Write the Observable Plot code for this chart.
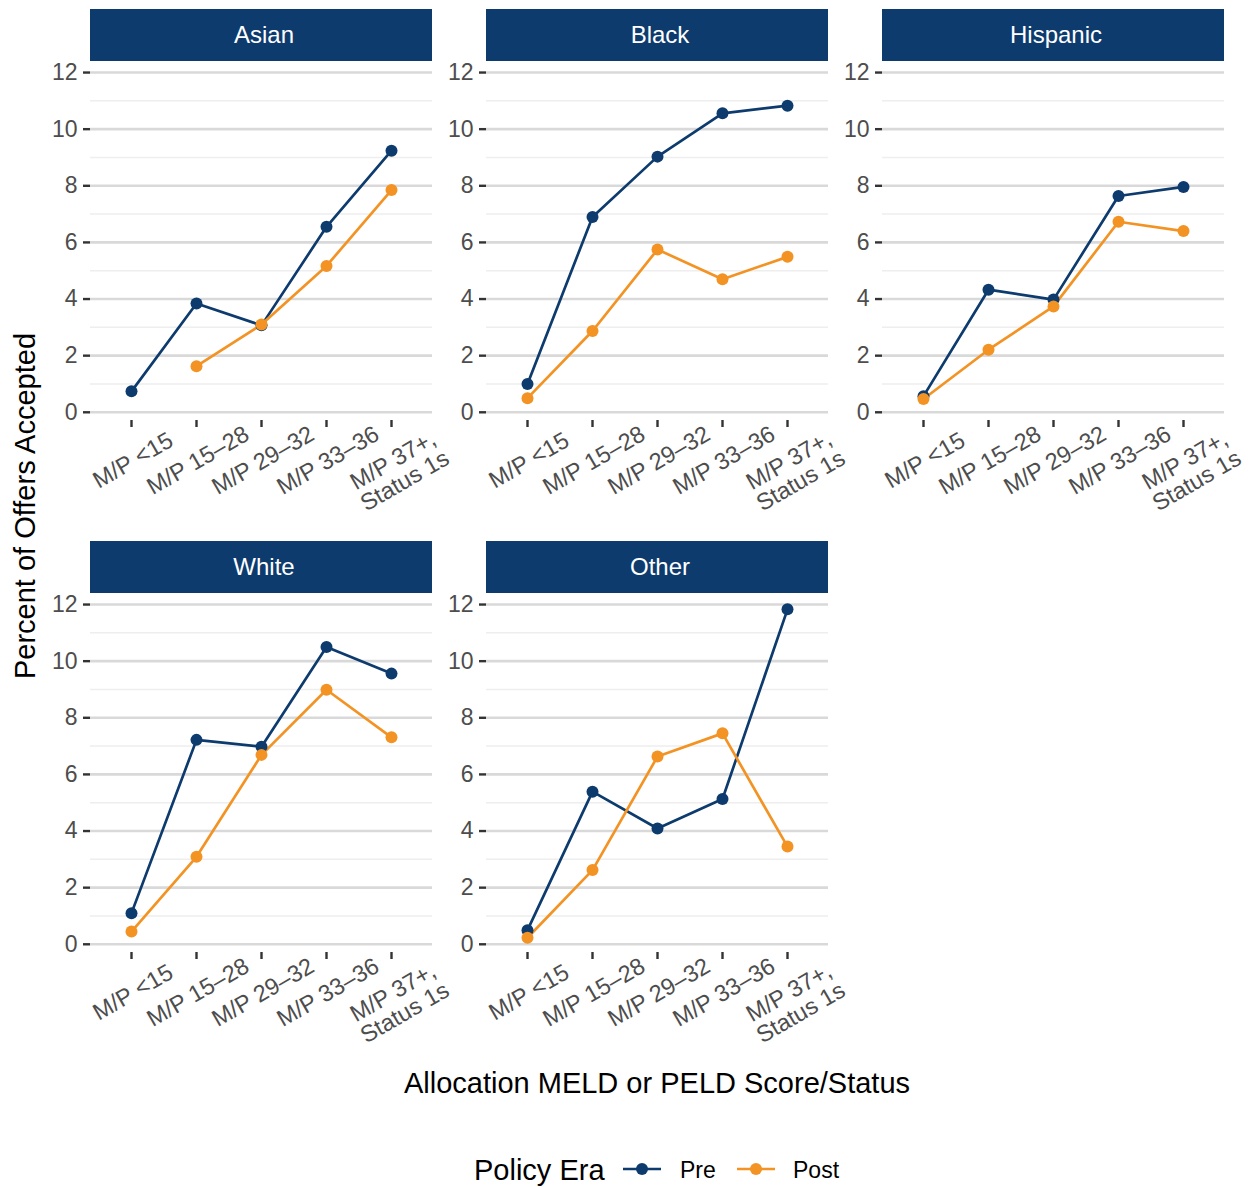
<!DOCTYPE html>
<html>
<head>
<meta charset="utf-8">
<script src="https://cdn.jsdelivr.net/npm/d3@7"></script>
<script src="https://cdn.jsdelivr.net/npm/@observablehq/plot@0.6"></script>
<style>
  body { margin: 0; background: #ffffff; }
  #fig { position: relative; width: 1250px; height: 1187px; overflow: hidden; background: #ffffff;
         font-family: "Liberation Sans", Arial, Helvetica, sans-serif; }
  .strip { position: absolute; width: 336px; padding-left: 6px; height: 52px; background: #0d3b6e; color: #ffffff;
           font-size: 24px; display: flex; align-items: center; justify-content: center; }
  .facet { position: absolute; }
  .ttl { position: absolute; color: #000000; font-size: 29px; line-height: 29px; white-space: nowrap; }
  .leg { position: absolute; color: #000000; font-size: 23px; line-height: 23px; white-space: nowrap; }
</style>
</head>
<body>
<div id="fig"></div>
<script>
// ---------- data ----------
const categories = ["M/P <15", "M/P 15–28", "M/P 29–32", "M/P 33–36", "M/P 37+,\nStatus 1s"];
const facets = ["Asian", "Black", "Hispanic", "White", "Other"];
const eras = ["Pre", "Post"];
const eraColors = ["#0d3b6e", "#f39324"];

const asianPre     = [0.74, 3.84, 3.07, 6.55, 9.24];
const asianPost    = [null, 1.63, 3.10, 5.17, 7.85];
const blackPre     = [1.00, 6.90, 9.03, 10.56, 10.83];
const blackPost    = [0.50, 2.87, 5.75, 4.70, 5.49];
const hispanicPre  = [0.57, 4.33, 3.98, 7.64, 7.96];
const hispanicPost = [0.47, 2.21, 3.74, 6.73, 6.40];
const whitePre     = [1.10, 7.22, 6.98, 10.50, 9.56];
const whitePost    = [0.45, 3.09, 6.69, 8.99, 7.31];
const otherPre     = [0.50, 5.39, 4.09, 5.13, 11.83];
const otherPost    = [0.23, 2.62, 6.63, 7.45, 3.45];

const yMajor = [0, 2, 4, 6, 8, 10, 12];
const yMinor = [1, 3, 5, 7, 9, 11];

const seriesByFacet = {
  Asian: [asianPre, asianPost],
  Black: [blackPre, blackPost],
  Hispanic: [hispanicPre, hispanicPost],
  White: [whitePre, whitePost],
  Other: [otherPre, otherPost]
};

// ---------- layout ----------
const fig = document.getElementById("fig");
const colX = [90, 486, 882];
const rowY = [61, 593];
const panelW = 342, panelH = 359;
const mL = 90, mR = 40, mB = 110;

facets.forEach((name, k) => {
  const px = colX[k % 3], py = rowY[Math.floor(k / 3)];
  const [pre, post] = seriesByFacet[name];
  const rows = [];
  eras.forEach((era, e) => {
    const vals = e === 0 ? pre : post;
    categories.forEach((c, i) => rows.push({cat: c, era, v: vals[i] == null ? NaN : vals[i]}));
  });

  const strip = document.createElement("div");
  strip.className = "strip";
  strip.style.left = px + "px";
  strip.style.top = (py - 52) + "px";
  strip.textContent = name;
  fig.appendChild(strip);

  const chart = Plot.plot({
    width: mL + panelW + mR,
    height: panelH + mB,
    marginLeft: mL, marginRight: mR, marginTop: 0, marginBottom: mB,
    style: {background: "transparent", overflow: "visible",
            fontFamily: "'Liberation Sans', Arial, Helvetica, sans-serif", fontSize: "23px"},
    x: {type: "point", domain: categories, padding: 0.6},
    y: {domain: [-0.29, 12.39]},
    color: {domain: eras, range: eraColors},
    marks: [
      Plot.ruleY(yMinor, {stroke: "#eeeeee", strokeWidth: 1.5}),
      Plot.ruleY(yMajor, {stroke: "#d9d9d9", strokeWidth: 2.6}),
      Plot.axisY(yMajor, {tickSize: 7, tickPadding: 6, stroke: "#333333", strokeWidth: 2.4,
                          fill: "#4d4d4d", fontSize: 23, label: null}),
      Plot.axisX({tickSize: 7, stroke: "#333333", strokeWidth: 2.4, tickFormat: () => "", label: null}),
      Plot.text(categories, {x: d => d, text: d => d, frameAnchor: "bottom", rotate: -30,
                             textAnchor: "middle", lineAnchor: "top", dx: -3, dy: 32,
                             fontSize: 23.5, fill: "#4d4d4d", lineHeight: 1.0}),
      Plot.line(rows, {x: "cat", y: "v", stroke: "era", strokeWidth: 2.7}),
      Plot.dot(rows, {x: "cat", y: "v", fill: "era", r: 6})
    ]
  });
  chart.classList.add("facet");
  chart.style.left = (px - mL) + "px";
  chart.style.top = py + "px";
  fig.appendChild(chart);
});

// axis titles
const xt = document.createElement("div");
xt.className = "ttl";
xt.textContent = "Allocation MELD or PELD Score/Status";
xt.style.left = "657px"; xt.style.top = "1069px"; xt.style.transform = "translateX(-50%)";
fig.appendChild(xt);

const yt = document.createElement("div");
yt.className = "ttl";
yt.textContent = "Percent of Offers Accepted";
yt.style.left = "25px"; yt.style.top = "506px";
yt.style.transform = "translate(-50%, -50%) rotate(-90deg)";
fig.appendChild(yt);

// legend
const lt = document.createElement("div");
lt.className = "ttl";
lt.textContent = "Policy Era";
lt.style.left = "474px"; lt.style.top = "1156px";
fig.appendChild(lt);

const legendX = [[623, 680], [737, 793]];
eras.forEach((era, e) => {
  const [gx, tx] = legendX[e];
  const g = document.createElementNS("http://www.w3.org/2000/svg", "svg");
  g.setAttribute("width", 38); g.setAttribute("height", 20);
  g.style.position = "absolute"; g.style.left = gx + "px"; g.style.top = "1159px";
  g.innerHTML = `<line x1="0" x2="38" y1="10" y2="10" stroke="${eraColors[e]}" stroke-width="2.7"/>` +
                `<circle cx="19" cy="10" r="6" fill="${eraColors[e]}"/>`;
  fig.appendChild(g);
  const t = document.createElement("div");
  t.className = "leg";
  t.textContent = era;
  t.style.left = tx + "px"; t.style.top = "1159px";
  fig.appendChild(t);
});
</script>
</body>
</html>
